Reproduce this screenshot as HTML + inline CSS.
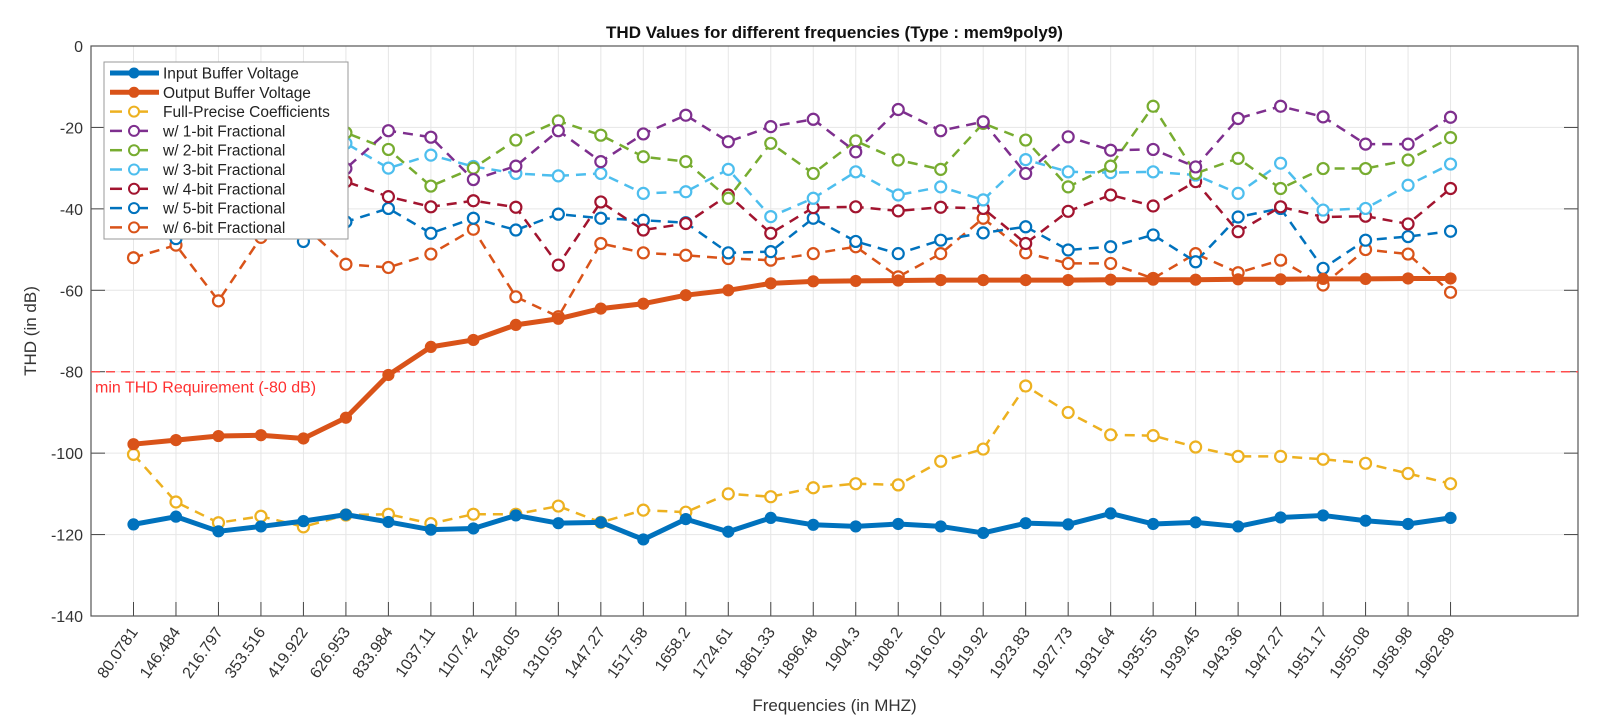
<!DOCTYPE html>
<html><head><meta charset="utf-8"><style>
html,body{margin:0;padding:0;background:#fff;}
svg{display:block;font-family:"Liberation Sans","DejaVu Sans",sans-serif;}
</style></head><body>
<svg id="chart" width="1621" height="716" viewBox="0 0 1621 716" xmlns="http://www.w3.org/2000/svg">
<rect width="1621" height="716" fill="#fff"/>
<g id="grid"></g>
<g id="axes"></g>
<g id="series"></g>
<g id="legend"></g>
</svg>
<script>
const categories = ["80.0781","146.484","216.797","353.516","419.922","626.953","833.984","1037.11","1107.42","1248.05","1310.55","1447.27","1517.58","1658.2","1724.61","1861.33","1896.48","1904.3","1908.2","1916.02","1919.92","1923.83","1927.73","1931.64","1935.55","1939.45","1943.36","1947.27","1951.17","1955.08","1958.98","1962.89"];
const inputBuf = [-117.5,-115.6,-119.2,-118,-116.7,-115.1,-116.9,-118.8,-118.5,-115.3,-117.2,-117,-121.2,-116.2,-119.3,-115.9,-117.6,-118,-117.4,-118,-119.6,-117.2,-117.5,-114.8,-117.4,-117,-118,-115.8,-115.3,-116.6,-117.4,-115.9];
const outputBuf = [-97.8,-96.8,-95.8,-95.6,-96.4,-91.3,-80.8,-73.9,-72.2,-68.5,-67,-64.5,-63.3,-61.2,-60,-58.3,-57.8,-57.7,-57.6,-57.5,-57.5,-57.5,-57.5,-57.4,-57.4,-57.4,-57.3,-57.3,-57.2,-57.2,-57.1,-57.1];
const fullPrec = [-100.3,-112,-117.1,-115.5,-118.1,-115.2,-115,-117.3,-115,-115,-113,-117,-114,-114.5,-110,-110.7,-108.5,-107.5,-107.8,-102,-99,-83.5,-90,-95.5,-95.7,-98.5,-100.8,-100.8,-101.5,-102.5,-105,-107.5];
const bit1 = [-27,-30,-28,-26,-28,-30.1,-20.8,-22.4,-32.8,-29.5,-20.8,-28.4,-21.6,-17,-23.5,-19.8,-18,-26,-15.6,-20.8,-18.6,-31.3,-22.3,-25.6,-25.4,-29.7,-17.8,-14.8,-17.4,-24.1,-24.1,-17.5];
const bit2 = [-23,-21,-24,-22,-22,-21.3,-25.4,-34.4,-30,-23.1,-18.4,-21.9,-27.2,-28.4,-37.4,-23.9,-31.3,-23.3,-28,-30.3,-19,-23.1,-34.6,-29.5,-14.8,-31.3,-27.6,-35,-30.1,-30.1,-28,-22.5];
const bit3 = [-22,-24,-27,-25,-22,-23.9,-30,-26.8,-29.6,-31.3,-31.9,-31.3,-36.2,-35.8,-30.3,-41.9,-37.4,-30.9,-36.6,-34.6,-37.8,-27.9,-30.9,-31.1,-30.9,-31.7,-36.2,-28.8,-40.3,-39.9,-34.2,-29];
const bit4 = [-36,-38,-34,-33,-31,-33.3,-37,-39.5,-38,-39.6,-53.8,-38.3,-45.2,-43.6,-36.6,-46,-39.7,-39.5,-40.5,-39.6,-39.9,-48.5,-40.6,-36.6,-39.3,-33.3,-45.6,-39.5,-42,-41.8,-43.7,-35];
const bit5 = [-44,-47.3,-45,-44,-48,-43.2,-39.9,-46,-42.3,-45.2,-41.3,-42.3,-42.8,-43.4,-50.8,-50.5,-42.3,-48,-51,-47.7,-45.9,-44.4,-50.1,-49.3,-46.4,-53,-42,-39.9,-54.6,-47.7,-46.8,-45.5];
const bit6 = [-52,-48.9,-62.6,-47,-44,-53.6,-54.4,-51.1,-45,-61.6,-66.5,-48.5,-50.8,-51.4,-52.2,-52.6,-51,-49.3,-56.7,-51,-42.3,-50.8,-53.4,-53.4,-57.1,-51,-55.7,-52.6,-58.7,-50,-51.1,-60.5];
const yTicks = [0,-20,-40,-60,-80,-100,-120,-140];
const seriesNames = ["Input Buffer Voltage","Output Buffer Voltage","Full-Precise Coefficients","w/ 1-bit Fractional","w/ 2-bit Fractional","w/ 3-bit Fractional","w/ 4-bit Fractional","w/ 5-bit Fractional","w/ 6-bit Fractional"];
const threshold = -80;

const NS="http://www.w3.org/2000/svg";
const L=91,R=1578,T=46,B=616;
const xs=i=>L+(R-L)*(i+1)/35;
const ys=v=>T+(B-T)*(0-v)/140;
function mk(tag,attrs,parent){const e=document.createElementNS(NS,tag);for(const k in attrs)e.setAttribute(k,attrs[k]);parent.appendChild(e);return e;}
const grid=document.getElementById('grid'),axes=document.getElementById('axes'),ser=document.getElementById('series'),leg=document.getElementById('legend');

categories.forEach((c,i)=>{
  const g=mk('line',{x1:xs(i),x2:xs(i),y1:T,y2:B,stroke:'#e6e6e6','stroke-width':1},grid);
  
  
  const tk=mk('line',{x1:xs(i),x2:xs(i),y1:B,y2:B-14,stroke:'#444','stroke-width':1},axes);
  
  
  const t=mk('text',{x:xs(i)+5,y:B+16,'font-size':16,fill:'#333','text-anchor':'end',transform:`rotate(-55 ${xs(i)+5} ${B+16})`},axes);
  t.textContent=c;
  
  
});
yTicks.forEach(v=>{
  const g=mk('line',{x1:L,x2:R,y1:ys(v),y2:ys(v),stroke:'#e6e6e6','stroke-width':1},grid);
  
  
  const tk=mk('line',{x1:L,x2:L+14,y1:ys(v),y2:ys(v),stroke:'#444'},axes);
  
  
  const tk2=mk('line',{x1:R,x2:R-14,y1:ys(v),y2:ys(v),stroke:'#444'},axes);
  
  
  const t=mk('text',{x:L-8,y:ys(v)+6,'font-size':16,fill:'#333','text-anchor':'end'},axes);
  t.textContent=v;
  
  
});
const box=mk('rect',{x:L,y:T,width:R-L,height:B-T,fill:'none',stroke:'#555','stroke-width':1.2},axes);


const title=mk('text',{x:(L+R)/2,y:38,'font-size':17,'font-weight':'bold','text-anchor':'middle',fill:'#111'},axes);
title.textContent='THD Values for different frequencies (Type : mem9poly9)';


const xl=mk('text',{x:(L+R)/2,y:711,'font-size':17,'text-anchor':'middle',fill:'#333'},axes);
xl.textContent='Frequencies (in MHZ)';


const yl=mk('text',{x:36,y:(T+B)/2,'font-size':17,'text-anchor':'middle',fill:'#333',transform:`rotate(-90 36 ${(T+B)/2})`},axes);
yl.textContent='THD (in dB)';



const th=mk('line',{x1:L,x2:R,y1:ys(threshold),y2:ys(threshold),stroke:'#ff4d4d','stroke-width':1.5,'stroke-dasharray':'9,6'},ser);


const thl=mk('text',{x:L+4,y:ys(threshold)+21,'font-size':16,fill:'#ff3030'},ser);
thl.textContent='min THD Requirement (-80 dB)';



const defs=[
 {d:bit6,c:'#D95319',n:'series-6bit',dash:true},
 {d:bit5,c:'#0072BD',n:'series-5bit',dash:true},
 {d:bit4,c:'#A2142F',n:'series-4bit',dash:true},
 {d:bit3,c:'#4DBEEE',n:'series-3bit',dash:true},
 {d:bit2,c:'#77AC30',n:'series-2bit',dash:true},
 {d:bit1,c:'#7E2F8E',n:'series-1bit',dash:true},
 {d:fullPrec,c:'#EDB120',n:'series-full-precise',dash:true},
 {d:outputBuf,c:'#D95319',n:'series-output-buffer',dash:false},
 {d:inputBuf,c:'#0072BD',n:'series-input-buffer',dash:false}
];
defs.forEach(s=>{
  const pts=s.d.map((v,i)=>xs(i)+','+ys(v)).join(' ');
  const pl=mk('polyline',{points:pts,fill:'none',stroke:s.c,'stroke-width':s.dash?2.5:5,'stroke-dasharray':s.dash?'10,7':'none','stroke-linejoin':'round'},ser);
  
  
  s.d.forEach((v,i)=>{
    const m=mk('circle',{cx:xs(i),cy:ys(v),r:s.dash?5.5:5,fill:s.dash?'#fff':s.c,stroke:s.c,'stroke-width':2.2},ser);
    
    
  });
});

const lb=mk('rect',{x:104,y:62,width:244,height:177,fill:'#fff',stroke:'#999','stroke-width':1},leg);


const lc=['#0072BD','#D95319','#EDB120','#7E2F8E','#77AC30','#4DBEEE','#A2142F','#0072BD','#D95319'];
seriesNames.forEach((nm,k)=>{
  const y=73+k*19.3;
  const solid=k<2;
  const g=mk('g',{},leg);
  
  
  if(solid){
    mk('line',{x1:110,x2:159,y1:y,y2:y,stroke:lc[k],'stroke-width':5},g);
    mk('circle',{cx:134,cy:y,r:4.5,fill:lc[k],stroke:lc[k],'stroke-width':2},g);
  }else{
    mk('line',{x1:110,x2:122,y1:y,y2:y,stroke:lc[k],'stroke-width':2.5},g);
    mk('line',{x1:138,x2:148,y1:y,y2:y,stroke:lc[k],'stroke-width':2.5},g);
    mk('circle',{cx:134,cy:y,r:5,fill:'#fff',stroke:lc[k],'stroke-width':2},g);
  }
  const t=mk('text',{x:163,y:y+5.5,'font-size':15.5,fill:'#222'},g);
  t.textContent=nm;
});
</script>
</body></html>
